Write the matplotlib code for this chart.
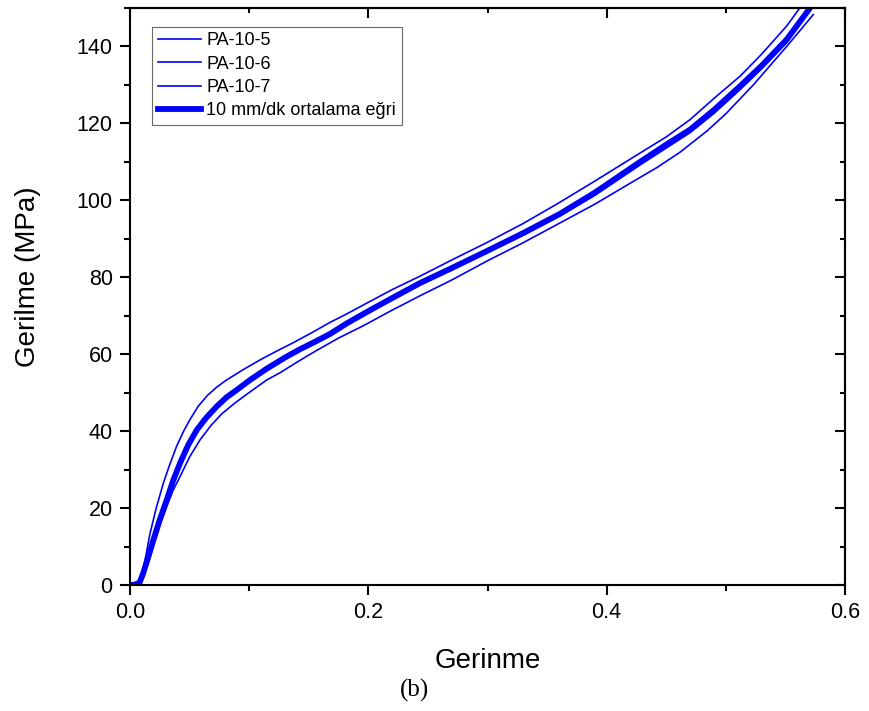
import matplotlib
matplotlib.use('Agg')
import matplotlib.pyplot as plt
from matplotlib.ticker import MultipleLocator, FormatStrFormatter

plt.rcParams['font.family'] = ['Liberation Sans', 'DejaVu Sans']

# okunan egri noktalari (gerinme, gerilme MPa)
pa105_x = [0, 0.004, 0.008, 0.012, 0.0168, 0.022, 0.028, 0.033, 0.039, 0.045, 0.0503,
           0.0573, 0.065, 0.073, 0.081, 0.095, 0.109, 0.123, 0.137, 0.152, 0.168, 0.182,
           0.2, 0.22, 0.2434, 0.27, 0.2993, 0.33, 0.358, 0.39, 0.428, 0.45, 0.47, 0.49,
           0.512, 0.53, 0.551, 0.562]
pa105_y = [0, 0.1, 1.2, 5.5, 13.4, 20, 26.5, 31, 36, 40, 43,
           46.5, 49.3, 51.5, 53.3, 56, 58.5, 60.8, 63, 65.5, 68.3, 70.5,
           73.5, 76.8, 80.3, 84.5, 89, 94, 99, 105, 112.3, 116.5, 121, 126.5,
           132.3, 138, 145.3, 150]

pa106_x = [0, 0.004, 0.008, 0.0115, 0.0155, 0.0196, 0.025, 0.0308, 0.036, 0.042, 0.05,
           0.0587, 0.068, 0.077, 0.088, 0.0993, 0.1147, 0.126, 0.1415, 0.1567, 0.175,
           0.1958, 0.2184, 0.2434, 0.27, 0.3, 0.33, 0.36, 0.39, 0.42, 0.442, 0.4615,
           0.484, 0.5, 0.523, 0.551, 0.5734]
pa106_y = [0, 0, 0.3, 2.5, 6, 10, 15.5, 20.4, 24.5, 28.2, 33.3,
           37.7, 41.5, 44.5, 47.3, 49.9, 53.3, 55.2, 58.2, 61, 64.2,
           67.4, 71.2, 75.2, 79.3, 84.3, 89, 94, 99, 104.5, 108.5, 112.5,
           118, 122.5, 130, 140, 148.3]

pa107_x = [0, 0.004, 0.008, 0.011, 0.0155, 0.0196, 0.025, 0.0308, 0.036, 0.042, 0.049,
           0.056, 0.064, 0.0727, 0.081, 0.09, 0.1007, 0.115, 0.1315, 0.1427, 0.155,
           0.168, 0.1818, 0.2, 0.22, 0.2434, 0.27, 0.2993, 0.33, 0.3608, 0.39, 0.428,
           0.45, 0.47, 0.49, 0.512, 0.53, 0.551, 0.572]
pa107_y = [0, 0.1, 0.5, 2.8, 7.2, 11.4, 16.7, 21.8, 26.6, 31.2, 36.0,
           39.8, 43.1, 46.0, 48.5, 50.5, 53.0, 56.0, 59.1, 61.0, 62.9,
           65.0, 67.7, 70.9, 74.3, 78.2, 82.1, 86.5, 91.0, 96.0, 101.3, 109.2,
           113.6, 117.6, 122.6, 128.8, 134.2, 141.0, 150]

ort_x = [0, 0.004, 0.008, 0.011, 0.0155, 0.0196, 0.025, 0.0308, 0.036, 0.042, 0.049,
         0.056, 0.064, 0.0727, 0.081, 0.09, 0.1007, 0.115, 0.1315, 0.1427, 0.155,
         0.168, 0.1818, 0.2, 0.22, 0.2434, 0.27, 0.2993, 0.33, 0.3608, 0.39, 0.428,
         0.45, 0.47, 0.49, 0.512, 0.53, 0.551, 0.5706]
ort_y = [0, 0.1, 0.6, 3, 7.5, 11.7, 17, 22.1, 27, 31.7, 36.5,
         40.3, 43.5, 46.4, 48.8, 50.8, 53.3, 56.3, 59.4, 61.3, 63.2,
         65.3, 68, 71.2, 74.6, 78.5, 82.4, 86.8, 91.5, 96.5, 102, 110,
         114.5, 118.4, 123.5, 129.7, 135, 141.8, 150]

fig = plt.figure(figsize=(8.69, 7.11), dpi=100)
ax = fig.add_axes([0.1496, 0.1772, 0.8228, 0.8115])

ax.plot(pa105_x, pa105_y, color='#0000ff', lw=1.2, label='PA-10-5')
ax.plot(pa106_x, pa106_y, color='#0000ff', lw=1.2, label='PA-10-6')
ax.plot(pa107_x, pa107_y, color='#0000ff', lw=1.2, label='PA-10-7')
ax.plot(ort_x, ort_y, color='#0000ff', lw=4.2, label='10 mm/dk ortalama eğri')

ax.set_xlim(0, 0.6)
ax.set_ylim(0, 150)

ax.xaxis.set_major_locator(MultipleLocator(0.2))
ax.xaxis.set_minor_locator(MultipleLocator(0.1))
ax.xaxis.set_major_formatter(FormatStrFormatter('%.1f'))
ax.yaxis.set_major_locator(MultipleLocator(20))
ax.yaxis.set_minor_locator(MultipleLocator(10))

ax.tick_params(which='both', direction='out', width=1.5, labelsize=15.5)
ax.tick_params(which='major', length=7.5)
ax.tick_params(which='minor', length=4)
ax.tick_params(axis='x', pad=5)
ax.tick_params(axis='y', pad=5)

for s in ax.spines.values():
    s.set_linewidth(1.5)

# ust ve sag kenarda iceri bakan tikler
top = ax.secondary_xaxis('top')
top.xaxis.set_major_locator(MultipleLocator(0.2))
top.xaxis.set_minor_locator(MultipleLocator(0.1))
top.tick_params(which='both', direction='in', width=1.5, labeltop=False)
top.tick_params(which='major', length=7)
top.tick_params(which='minor', length=3.5)
top.spines['top'].set_linewidth(1.5)

right = ax.secondary_yaxis('right')
right.yaxis.set_major_locator(MultipleLocator(20))
right.yaxis.set_minor_locator(MultipleLocator(10))
right.tick_params(which='both', direction='in', width=1.5, labelright=False)
right.tick_params(which='major', length=7)
right.tick_params(which='minor', length=3.5)
right.spines['right'].set_linewidth(1.5)

ax.set_xlabel('Gerinme', fontsize=20)
ax.set_ylabel('Gerilme (MPa)', fontsize=20)
ax.xaxis.set_label_coords(0.5, -0.11)
ax.yaxis.set_label_coords(-0.125, 0.535)

leg = ax.legend(loc='upper left', bbox_to_anchor=(0.031, 0.967), fontsize=13,
                frameon=True, fancybox=False, edgecolor='#444444',
                handlelength=2.4, handletextpad=0.3, labelspacing=0.35,
                borderpad=0.3, borderaxespad=0.0)
leg.get_frame().set_linewidth(0.8)

fig.text(0.4775, 0.029, '(b)', fontsize=18, family='Liberation Serif',
         ha='center', va='center')

fig.savefig('out.png', dpi=100)
